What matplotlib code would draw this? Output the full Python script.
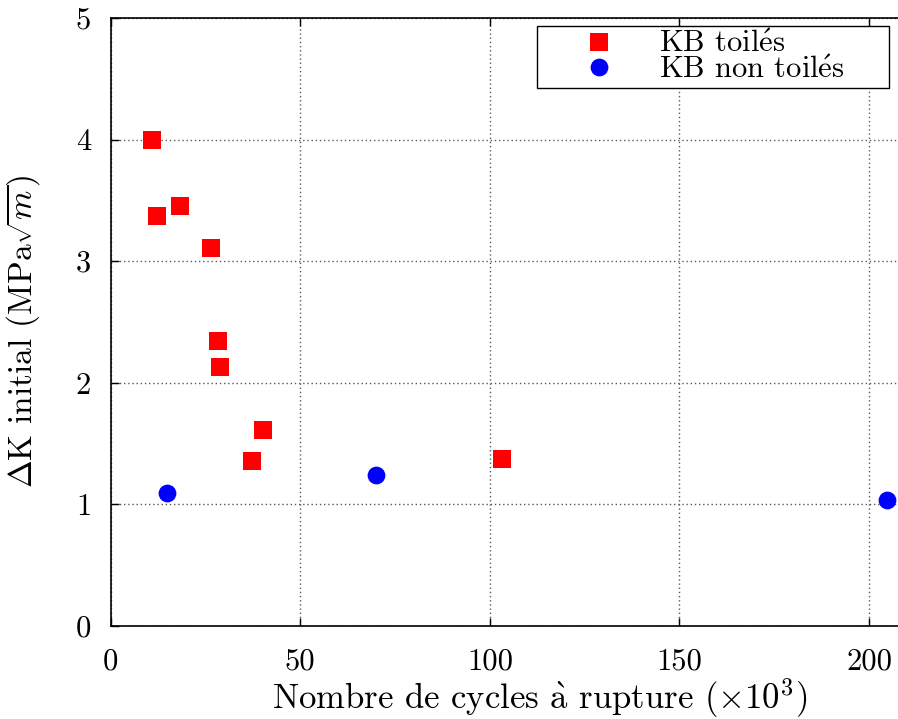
import matplotlib
matplotlib.use("Agg")
import matplotlib.pyplot as plt

# data (cycles in thousands, delta K in MPa sqrt(m))
toiles_cycles = [11.0, 12.3, 18.4, 26.6, 28.4, 28.9, 40.3, 37.4, 103.1]
toiles_dk = [4.00, 3.37, 3.45, 3.11, 2.34, 2.13, 1.61, 1.36, 1.37]
non_toiles_cycles = [14.9, 70.0, 204.8]
non_toiles_dk = [1.09, 1.24, 1.04]

xticks = [0, 50, 100, 150, 200]
yticks = [0, 1, 2, 3, 4, 5]

plt.rcParams["font.family"] = ["cmr10", "DejaVu Serif"]
plt.rcParams["mathtext.fontset"] = "cm"
plt.rcParams["axes.unicode_minus"] = False
fs = 22

# accents through mathtext so they come from the Computer Modern font too
e_acute = r"$\mathrm{\acute{e}}$"
a_grave = r"$\mathrm{\grave{a}}$"

W, H = 898, 719
fig = plt.figure(figsize=(W / 100, H / 100), dpi=100)
# left spine at 110.5 px, x=220 would sit at 945 px (cut off, as in the reference)
x0, x1 = 110.5, 945.0
yb, yt = 626, 18
ax = fig.add_axes([x0 / W, (H - yb) / H, (x1 - x0) / W, (yb - yt) / H])

ax.plot(toiles_cycles, toiles_dk, "s", color="#ff0000", markersize=12.3,
        markeredgewidth=0, label="KB toil" + e_acute + "s")
ax.plot(non_toiles_cycles, non_toiles_dk, "o", color="#0000ff", markersize=12.8,
        markeredgewidth=0, label="KB non toil" + e_acute + "s")

ax.set_xlim(0, 220)
ax.set_ylim(0, 5)
ax.set_xticks(xticks)
ax.set_yticks(yticks)
ax.grid(True, color="0.35", linestyle=(0, (1, 2)), linewidth=1)
ax.tick_params(direction="in", length=6, width=1, labelsize=fs, top=True, right=True)
ax.tick_params(axis="x", pad=16)
ax.tick_params(axis="y", pad=14)
for s in ax.spines.values():
    s.set_linewidth(1.2)

ax.set_xlabel("Nombre de cycles " + a_grave + r" rupture ($\times10^3$)", fontsize=25)
ax.set_ylabel(r"$\Delta$K initial (MPa$\sqrt{m}$)", fontsize=24)
ax.xaxis.set_label_coords((540 - x0) / (x1 - x0), -(676 - yb) / (yb - yt))
ax.yaxis.set_label_coords(-(x0 - 42) / (x1 - x0), (yb - 331) / (yb - yt))

leg = ax.legend(loc="upper left", mode="expand", fontsize=fs,
                bbox_to_anchor=(537 / W, 1 - 85 / H, (889 - 537) / W, (85 - 26) / H),
                bbox_transform=fig.transFigure, borderaxespad=0,
                fancybox=False, framealpha=1, edgecolor="black",
                handlelength=3.75, handletextpad=0.1, borderpad=0.15,
                labelspacing=-0.08)
leg.get_frame().set_linewidth(1)

fig.savefig("out.png", dpi=100)
